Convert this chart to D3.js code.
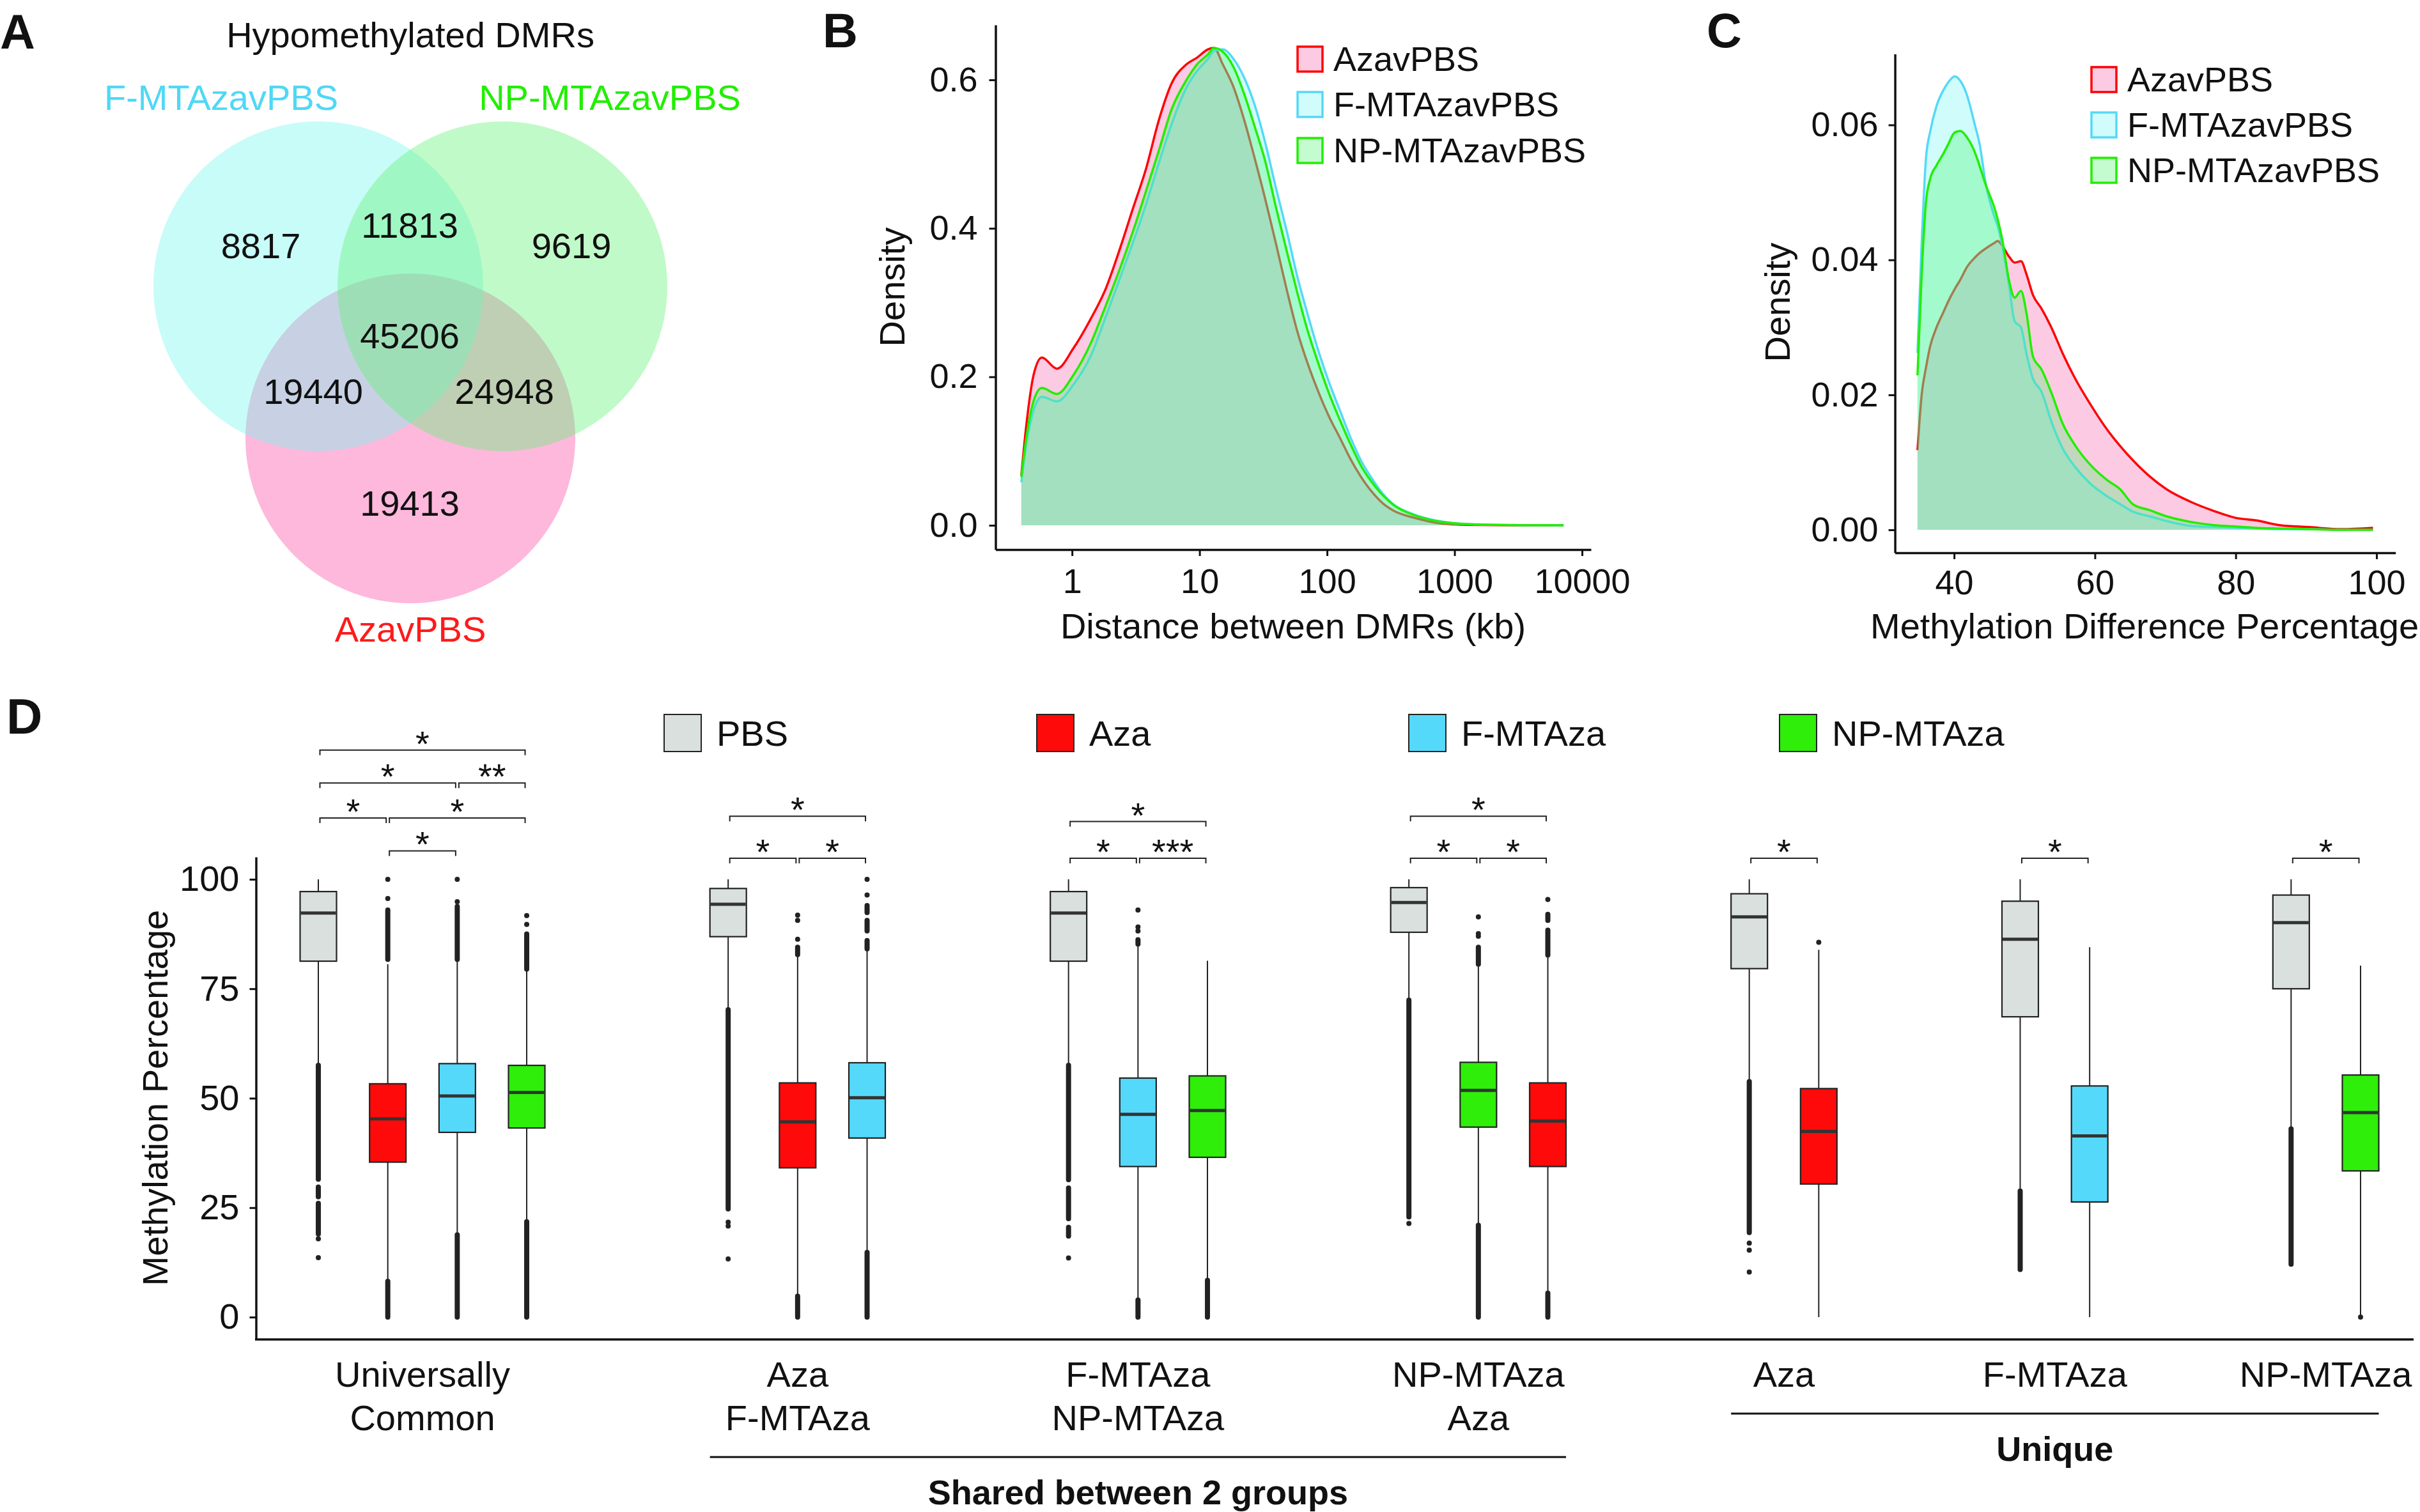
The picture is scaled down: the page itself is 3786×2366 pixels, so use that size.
<!DOCTYPE html>
<html>
<head>
<meta charset="utf-8">
<script src="https://cdn.jsdelivr.net/npm/d3@7"></script>
<style>
  body { margin: 0; background: #fff; }
  svg { display: block; }
  text { font-family: "Liberation Sans", Arial, sans-serif; fill: #111; }
</style>
</head>
<body>
<svg id="fig" width="3786" height="2366"></svg>
<script>
// ---------- data ----------
// A: venn region counts
const vennSets = ["AzavPBS", "F-MTAzavPBS", "NP-MTAzavPBS"];
const vennRegions = ["F only", "F&NP", "NP only", "all", "F&Aza", "NP&Aza", "Aza only"];
const vennCounts = [8817, 11813, 9619, 45206, 19440, 24948, 19413];

// B: density of distance between DMRs (kb)
const distKb = [0.40, 0.44, 0.50, 0.58, 0.76, 1.03, 1.40, 1.83, 2.40, 3.02, 3.80, 4.80, 6.03, 7.91, 9.57,
  11.6, 13.0, 15.2, 18.5, 22.4, 27.1, 32.8, 39.8, 48.2, 58.5, 70.8, 85.9, 104, 126, 153, 185, 225, 272,
  330, 485, 713, 1047, 1538, 3162, 7161];
const distAza = [0.067, 0.138, 0.203, 0.226, 0.211, 0.239, 0.278, 0.318, 0.375, 0.428, 0.480, 0.546, 0.595,
  0.621, 0.630, 0.641, 0.643, 0.621, 0.590, 0.546, 0.494, 0.439, 0.379, 0.318, 0.261, 0.217, 0.179, 0.146,
  0.118, 0.089, 0.065, 0.045, 0.030, 0.020, 0.010, 0.0035, 0.001, 0.0004, 0.0001, 0];
const distF = [0.058, 0.111, 0.155, 0.173, 0.167, 0.190, 0.228, 0.280, 0.335, 0.382, 0.432, 0.488, 0.540,
  0.590, 0.612, 0.628, 0.639, 0.641, 0.628, 0.603, 0.566, 0.515, 0.454, 0.397, 0.335, 0.283, 0.234, 0.192,
  0.155, 0.118, 0.087, 0.063, 0.043, 0.0285, 0.0144, 0.0066, 0.0026, 0.0012, 0.0003, 0];
const distNP = [0.065, 0.120, 0.168, 0.185, 0.177, 0.203, 0.245, 0.295, 0.348, 0.397, 0.450, 0.505, 0.560,
  0.600, 0.621, 0.634, 0.643, 0.638, 0.617, 0.581, 0.537, 0.490, 0.428, 0.370, 0.313, 0.261, 0.217, 0.177,
  0.142, 0.109, 0.080, 0.058, 0.041, 0.0277, 0.0135, 0.0058, 0.0023, 0.001, 0.0002, 0];

// C: density of methylation difference percentage
const diffPct = [34.8, 35.4, 36.0, 36.6, 37.5, 38.5, 39.1, 40.1, 40.9, 41.8, 43.0, 43.6, 44.5, 45.7, 46.2,
  46.9, 47.8, 48.6, 49.5, 50.3, 51.2, 52.4, 53.9, 55.4, 57.2, 59.3, 61.7, 63.6, 65.4, 67.8, 70.2, 73.5,
  76.9, 79.9, 82.9, 86.2, 90.5, 95.0, 99.5];
const diffAza = [0.0118, 0.0201, 0.0240, 0.0272, 0.0300, 0.0323, 0.0337, 0.0357, 0.0371, 0.0389, 0.0404,
  0.0410, 0.0417, 0.0425, 0.0428, 0.0420, 0.0405, 0.0396, 0.0398, 0.0378, 0.0348, 0.0328, 0.0298, 0.0262,
  0.0224, 0.0187, 0.0149, 0.0124, 0.0103, 0.0079, 0.0060, 0.0042, 0.0028, 0.0018, 0.0014, 0.0007, 0.0004,
  0.0001, 0.0003];
const diffF = [0.0262, 0.0427, 0.0550, 0.0590, 0.0628, 0.0652, 0.0662, 0.0672, 0.0665, 0.0645, 0.0598,
  0.0573, 0.0513, 0.0465, 0.0450, 0.0418, 0.0363, 0.0309, 0.0300, 0.0260, 0.0224, 0.0205, 0.0158, 0.0121,
  0.0093, 0.0069, 0.0050, 0.0038, 0.0027, 0.0020, 0.0013, 0.0006, 0.0004, 0.0003, 0.0002, 0.0001, 0.0001,
  0, 0];
const diffNP = [0.0229, 0.0380, 0.0485, 0.0520, 0.0540, 0.0558, 0.0570, 0.0589, 0.0591, 0.0582, 0.0558,
  0.0540, 0.0511, 0.0478, 0.0460, 0.0427, 0.0370, 0.0344, 0.0354, 0.0320, 0.0257, 0.0238, 0.0201, 0.0158,
  0.0125, 0.0097, 0.0074, 0.0060, 0.0038, 0.0029, 0.0020, 0.0012, 0.0007, 0.0005, 0.0003, 0.0002, 0.0001,
  0, 0];
const densityNames = ["AzavPBS", "F-MTAzavPBS", "NP-MTAzavPBS"];

// D: boxplots of methylation percentage
const treatments = ["PBS", "Aza", "F-MTAza", "NP-MTAza"];
const groupLabels = [["Universally", "Common"], ["Aza", "F-MTAza"], ["F-MTAza", "NP-MTAza"],
  ["NP-MTAza", "Aza"], ["Aza"], ["F-MTAza"], ["NP-MTAza"]];
const groupMembers = [["PBS", "Aza", "F-MTAza", "NP-MTAza"], ["PBS", "Aza", "F-MTAza"],
  ["PBS", "F-MTAza", "NP-MTAza"], ["PBS", "NP-MTAza", "Aza"], ["PBS", "Aza"], ["PBS", "F-MTAza"],
  ["PBS", "NP-MTAza"]];
// [lower whisker, Q1, median, Q3, upper whisker]
const boxStats = [
  [[57.7, 81.3, 92.3, 97.2, 100], [8.6, 35.4, 45.3, 53.3, 80.6], [19.0, 42.2, 50.5, 57.9, 81.3], [22.0, 43.2, 51.3, 57.5, 79.1]],
  [[70.4, 86.9, 94.3, 97.9, 100], [5.0, 34.1, 44.6, 53.5, 82.6], [15.1, 40.9, 50.1, 58.1, 83.9]],
  [[57.7, 81.3, 92.3, 97.2, 100], [4.1, 34.4, 46.3, 54.6, 84.9], [8.6, 36.5, 47.2, 55.1, 81.4]],
  [[72.6, 87.9, 94.7, 98.1, 100], [21.2, 43.4, 51.8, 58.2, 80.4], [5.7, 34.4, 44.8, 53.5, 82.2]],
  [[54.0, 79.6, 91.4, 96.7, 100], [0, 30.4, 42.4, 52.2, 83.9]],
  [[29.0, 68.6, 86.3, 95.0, 100], [0, 26.3, 41.4, 52.8, 84.5]],
  [[43.0, 75.0, 90.1, 96.4, 100], [0.5, 33.4, 46.7, 55.3, 80.3]]
];
// dense outlier columns [from, to]
const outlierRuns = [
  [[[31.5, 57.5], [27.5, 29.7], [19.0, 26.0]], [[0, 8.2], [81.7, 93.0]], [[0, 18.8], [81.7, 93.8]], [[0, 21.8], [79.5, 87.5]]],
  [[[24.7, 70.2]], [[0, 4.8], [82.8, 84.5]], [[0, 14.8], [84.1, 86.0], [88.2, 90.6], [92.4, 94.0]]],
  [[[31.4, 57.5], [22.5, 29.5], [18.5, 20.5]], [[0, 3.9], [85.2, 86.2]], [[0, 8.4]]],
  [[[22.9, 72.4]], [[0, 21.0], [80.6, 84.5]], [[0, 5.5], [82.7, 88.4], [90.6, 92.0]]],
  [[[19.3, 53.8]], []],
  [[[10.9, 28.8]], []],
  [[[12.1, 43.0]], []]
];
// single outliers
const outlierPts = [
  [[17.9, 13.6], [95.6, 100], [94.9, 100], [89.7, 91.7]],
  [[21.7, 20.8, 13.3], [86.3, 90.6, 91.8], [96.4, 100]],
  [[13.5], [88.2, 89.1, 93.0], []],
  [[21.4], [87.0, 87.6, 91.4], [95.4]],
  [[16.9, 15.3, 10.3], [85.6]],
  [[], []],
  [[], [0]]
];
// [group, box a, box b, label, bracket height]
const comparisons = [
  [0, 0, 3, "*", 129.5], [0, 0, 2, "*", 122], [0, 2, 3, "**", 122], [0, 0, 1, "*", 114], [0, 1, 3, "*", 114],
  [0, 1, 2, "*", 106.5],
  [1, 0, 2, "*", 114.4], [1, 0, 1, "*", 104.8], [1, 1, 2, "*", 104.8],
  [2, 0, 2, "*", 113.2], [2, 0, 1, "*", 104.8], [2, 1, 2, "***", 104.8],
  [3, 0, 2, "*", 114.4], [3, 0, 1, "*", 104.8], [3, 1, 2, "*", 104.8],
  [4, 0, 1, "*", 104.8], [5, 0, 1, "*", 104.8], [6, 0, 1, "*", 104.8]
];

// ---------- drawing ----------
const svg = d3.select("#fig");
const FONT = "'Liberation Sans', Arial, sans-serif";
svg.append("rect").attr("width", 3786).attr("height", 2366).attr("fill", "#fff");

function label(x, y, t, size, opts = {}) {
  return svg.append("text").attr("x", x).attr("y", y).attr("font-size", size)
    .attr("text-anchor", opts.anchor || "start")
    .attr("font-weight", opts.bold ? "bold" : null)
    .style("fill", opts.color || "#111")
    .attr("transform", opts.rotate ? `rotate(-90,${x},${y})` : null)
    .text(t);
}

function styleAxis(g, size) {
  g.attr("font-family", FONT).attr("font-size", size);
  g.select(".domain").attr("stroke", "#111").attr("stroke-width", 3.5);
  g.selectAll(".tick line").attr("stroke", "#111").attr("stroke-width", 3);
  g.selectAll(".tick text").style("fill", "#111");
}

// panel labels
label(0, 76, "A", 76, { bold: true });
label(1287, 74, "B", 76, { bold: true });
label(2670, 74, "C", 76, { bold: true });
label(10, 1148, "D", 78, { bold: true });

// ---- A: venn ----
const vennCircles = [
  { cx: 642, cy: 686, fill: "#fa4da7" },  // AzavPBS
  { cx: 498, cy: 448, fill: "#75f7ed" },  // F-MTAzavPBS
  { cx: 786, cy: 448, fill: "#61f275" }   // NP-MTAzavPBS
];
svg.append("g").selectAll("circle").data(vennCircles).join("circle")
  .attr("cx", d => d.cx).attr("cy", d => d.cy).attr("r", 258)
  .attr("fill", d => d.fill).attr("fill-opacity", 0.4);

const vennLabelPos = [[408, 404], [641, 372], [894, 404], [641, 545], [490, 632], [789, 632], [641, 807]];
svg.append("g").selectAll("text").data(vennCounts).join("text")
  .attr("x", (d, i) => vennLabelPos[i][0]).attr("y", (d, i) => vennLabelPos[i][1])
  .attr("text-anchor", "middle").attr("font-size", 56).text(d => d);

label(642, 74, "Hypomethylated DMRs", 56, { anchor: "middle" });
label(346, 172, vennSets[1], 56, { anchor: "middle", color: "#4fd8f5" });
label(954, 172, vennSets[2], 56, { anchor: "middle", color: "#22ee00" });
label(642, 1004, vennSets[0], 56, { anchor: "middle", color: "#ff1a1a" });

// ---- density panels (B, C) ----
const densFill = ["#f84ea5", "#62f5f5", "#3af560"];
const densLine = ["#ff0000", "#55d9f7", "#22ee00"];

function drawDensity(xs, seriesList, x, y) {
  const g = svg.append("g");
  seriesList.forEach((vals, k) => {
    const pts = xs.map((v, i) => [v, vals[i]]);
    g.append("path")
      .attr("d", d3.area().x(d => x(d[0])).y0(y(0)).y1(d => y(d[1])).curve(d3.curveMonotoneX)(pts))
      .attr("fill", densFill[k]).attr("fill-opacity", 0.3);
    g.append("path")
      .attr("d", d3.line().x(d => x(d[0])).y(d => y(d[1])).curve(d3.curveMonotoneX)(pts))
      .attr("fill", "none").attr("stroke", densLine[k]).attr("stroke-width", 3.5)
      .attr("stroke-linejoin", "round");
  });
}

function drawDensityLegend(x0, rowY) {
  densityNames.forEach((n, k) => {
    svg.append("rect").attr("x", x0).attr("y", rowY[k] - 19).attr("width", 39).attr("height", 39)
      .attr("fill", densFill[k]).attr("fill-opacity", 0.3)
      .attr("stroke", densLine[k]).attr("stroke-width", 3.5);
    label(x0 + 56, rowY[k] + 19, n, 54);
  });
}

// B
const xB = d3.scaleLog().domain([Math.pow(10, -0.6), Math.pow(10, 4.07)]).range([1557.5, 2489]);
const yB = d3.scaleLinear().domain([-0.0327, 0.674]).range([860, 39]);
drawDensity(distKb, [distAza, distF, distNP], xB, yB);
styleAxis(svg.append("g").attr("transform", "translate(0,860)")
  .call(d3.axisBottom(xB).tickValues([1, 10, 100, 1000, 10000]).tickFormat(d3.format("d"))
    .tickSize(10).tickSizeOuter(0).tickPadding(20)), 54);
styleAxis(svg.append("g").attr("transform", "translate(1557.5,0)")
  .call(d3.axisLeft(yB).tickValues([0, 0.2, 0.4, 0.6]).tickFormat(d3.format(".1f"))
    .tickSize(10).tickSizeOuter(0).tickPadding(18)), 54);
label(2023, 999, "Distance between DMRs (kb)", 56, { anchor: "middle" });
label(1415, 449, "Density", 56, { anchor: "middle", rotate: true });
drawDensityLegend(2030, [92, 163, 235]);

// C
const xC = d3.scaleLinear().domain([31.6, 102.7]).range([2964.6, 3747.7]);
const yC = d3.scaleLinear().domain([-0.0034, 0.0705]).range([865, 84.6]);
drawDensity(diffPct, [diffAza, diffF, diffNP], xC, yC);
styleAxis(svg.append("g").attr("transform", "translate(0,865)")
  .call(d3.axisBottom(xC).tickValues([40, 60, 80, 100]).tickSize(10).tickSizeOuter(0).tickPadding(17)), 54);
styleAxis(svg.append("g").attr("transform", "translate(2964.6,0)")
  .call(d3.axisLeft(yC).tickValues([0, 0.02, 0.04, 0.06]).tickFormat(d3.format(".2f"))
    .tickSize(10).tickSizeOuter(0).tickPadding(16)), 54);
label(2926, 999, "Methylation Difference Percentage", 56);
label(2800, 473, "Density", 56, { anchor: "middle", rotate: true });
drawDensityLegend(3272, [124, 195, 266]);

// ---- D: boxplots ----
const boxFill = { "PBS": "#d9e0de", "Aza": "#ff0a0a", "F-MTAza": "#55d9fb", "NP-MTAza": "#2eee0a" };
const yD = d3.scaleLinear().domain([-5.1, 105.1]).range([2096, 1341]);

// slot index of each box: groups separated by a gap of 2.9 slots
const slotStart = [];
groupMembers.forEach((m, g) => {
  slotStart.push(g === 0 ? 0 : slotStart[g - 1] + groupMembers[g - 1].length - 1 + 2.9);
});
const lastSlot = slotStart[slotStart.length - 1] + groupMembers[groupMembers.length - 1].length - 1;
const xSlot = d3.scaleLinear().domain([0, lastSlot]).range([498, 3693]);
const boxX = (g, i) => xSlot(slotStart[g] + i);
const boxW = 57;

const gD = svg.append("g");
groupMembers.forEach((members, g) => {
  members.forEach((t, i) => {
    const cx = boxX(g, i);
    const [lo, q1, med, q3, hi] = boxStats[g][i];
    const bg = gD.append("g");
    // whiskers
    bg.append("line").attr("x1", cx).attr("x2", cx).attr("y1", yD(q3)).attr("y2", yD(hi))
      .attr("stroke", "#222").attr("stroke-width", 2);
    bg.append("line").attr("x1", cx).attr("x2", cx).attr("y1", yD(q1)).attr("y2", yD(lo))
      .attr("stroke", "#222").attr("stroke-width", 2);
    // outliers
    outlierRuns[g][i].forEach(r => {
      bg.append("line").attr("x1", cx).attr("x2", cx).attr("y1", yD(r[0])).attr("y2", yD(r[1]))
        .attr("stroke", "#222").attr("stroke-width", 8).attr("stroke-linecap", "round");
    });
    bg.selectAll("circle").data(outlierPts[g][i]).join("circle")
      .attr("cx", cx).attr("cy", d => yD(d)).attr("r", 4).attr("fill", "#222");
    // box
    bg.append("rect").attr("x", cx - boxW / 2).attr("y", yD(q3)).attr("width", boxW)
      .attr("height", yD(q1) - yD(q3)).attr("fill", boxFill[t]).attr("stroke", "#222").attr("stroke-width", 2.2);
    bg.append("line").attr("x1", cx - boxW / 2 + 1).attr("x2", cx + boxW / 2 - 1)
      .attr("y1", yD(med)).attr("y2", yD(med)).attr("stroke", "#333").attr("stroke-width", 5);
  });
});

// significance brackets
comparisons.forEach(([g, a, b, txt, h]) => {
  const x1 = boxX(g, a) + 2.5, x2 = boxX(g, b) - 2.5, yy = yD(h);
  gD.append("path").attr("d", `M${x1},${yy + 8}V${yy}H${x2}V${yy + 8}`)
    .attr("fill", "none").attr("stroke", "#222").attr("stroke-width", 2);
  gD.append("text").attr("x", (x1 + x2) / 2).attr("y", yy + 9).attr("text-anchor", "middle")
    .attr("font-size", 56).text(txt);
});

// axes
styleAxis(svg.append("g").attr("transform", "translate(400.5,0)")
  .call(d3.axisLeft(yD).tickValues([0, 25, 50, 75, 100]).tickSize(10).tickSizeOuter(0).tickPadding(16)), 56);
svg.append("line").attr("x1", 399).attr("x2", 3776).attr("y1", yD(-5.1)).attr("y2", yD(-5.1))
  .attr("stroke", "#111").attr("stroke-width", 3.5);
label(262, 1718, "Methylation Percentage", 56, { anchor: "middle", rotate: true });

// group labels
groupLabels.forEach((lines, g) => {
  const n = groupMembers[g].length;
  const cx = (boxX(g, 0) + boxX(g, n - 1)) / 2;
  lines.forEach((t, j) => label(cx, 2170 + j * 68, t, 56, { anchor: "middle" }));
});

// shared / unique brackets
const sharedL = boxX(1, 0) - boxW / 2, sharedR = boxX(3, 2) + boxW / 2;
svg.append("line").attr("x1", sharedL).attr("x2", sharedR).attr("y1", 2280).attr("y2", 2280)
  .attr("stroke", "#111").attr("stroke-width", 3);
label((sharedL + sharedR) / 2, 2354, "Shared between 2 groups", 54, { anchor: "middle", bold: true });
const uniqL = boxX(4, 0) - boxW / 2, uniqR = boxX(6, 1) + boxW / 2;
svg.append("line").attr("x1", uniqL).attr("x2", uniqR).attr("y1", 2212).attr("y2", 2212)
  .attr("stroke", "#111").attr("stroke-width", 3);
label((uniqL + uniqR) / 2, 2286, "Unique", 54, { anchor: "middle", bold: true });

// legend D
const legX = [1039, 1622, 2204, 2784];
treatments.forEach((t, k) => {
  svg.append("rect").attr("x", legX[k]).attr("y", 1118).attr("width", 58).attr("height", 58)
    .attr("fill", boxFill[t]).attr("stroke", "#222").attr("stroke-width", 2);
  label(legX[k] + 82, 1167, t, 56);
});
</script>
</body>
</html>
